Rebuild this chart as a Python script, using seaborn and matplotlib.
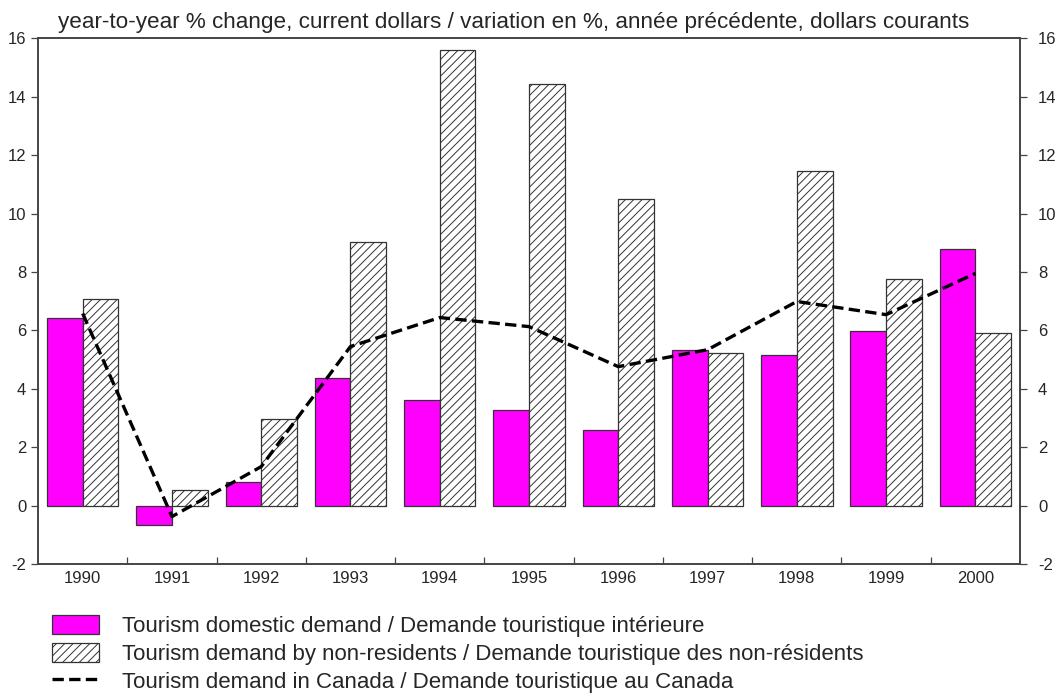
"""
Tourism demand in Canada, year-to-year % change (bars + dashed line).
"""

import pandas as pd
import seaborn as sns
import matplotlib.pyplot as plt
from matplotlib.ticker import FixedLocator

years = ["1990", "1991", "1992", "1993", "1994", "1995",
         "1996", "1997", "1998", "1999", "2000"]
domestic = [6.44, -0.65, 0.82, 4.38, 3.63, 3.29, 2.58, 5.34, 5.17, 5.99, 8.80]
non_residents = [7.09, 0.55, 2.98, 9.04, 15.58, 14.42, 10.48, 5.24, 11.44, 7.77, 5.92]
canada_total = [6.58, -0.37, 1.34, 5.45, 6.44, 6.13, 4.76, 5.34, 6.99, 6.54, 7.95]

label_domestic = "Tourism domestic demand / Demande touristique intérieure"
label_nonres = "Tourism demand by non-residents / Demande touristique des non-résidents"
label_canada = "Tourism demand in Canada / Demande touristique au Canada"
title = ("year-to-year % change, current dollars / variation en %, "
         "année précédente, dollars courants")
y_ticks = [-2, 0, 2, 4, 6, 8, 10, 12, 14, 16]


def build_frame() -> pd.DataFrame:
    rows = []
    for year, d, n in zip(years, domestic, non_residents):
        rows.append({"year": year, "series": label_domestic, "value": d})
        rows.append({"year": year, "series": label_nonres, "value": n})
    return pd.DataFrame(rows)


def main() -> None:
    sns.set_style("ticks")
    plt.rcParams["font.family"] = ["Liberation Sans", "DejaVu Sans"]
    plt.rcParams["hatch.linewidth"] = 0.7
    plt.rcParams["axes.unicode_minus"] = False

    df = build_frame()

    fig = plt.figure(figsize=(10.57, 6.94), dpi=100)
    ax = fig.add_axes([0.036, 0.187, 0.929, 0.758])

    sns.barplot(
        data=df, x="year", y="value", hue="series", order=years,
        palette={label_domestic: "#ff00ff", label_nonres: "white"},
        saturation=1, edgecolor="#333333", linewidth=0.9, width=0.8, gap=0,
        errorbar=None, ax=ax,
    )
    for patch in ax.containers[1]:
        patch.set_hatch("////")

    line_df = pd.DataFrame({"pos": range(len(years)), "value": canada_total})
    sns.lineplot(data=line_df, x="pos", y="value", color="black",
                 linestyle=(0, (3.4, 1.6)), linewidth=2.4, ax=ax,
                 label=label_canada)

    ax.set_xlim(-0.5, len(years) - 0.5)
    ax.set_ylim(-2, 16)
    ax.set_yticks(y_ticks)
    ax.set_xticks(range(len(years)))
    ax.set_xticklabels(years, fontsize=12)
    ax.tick_params(axis="x", which="major", length=0, pad=5)
    ax.xaxis.set_minor_locator(FixedLocator([i + 0.5 for i in range(len(years) - 1)]))
    ax.tick_params(axis="x", which="minor", direction="in", length=5,
                   width=0.9, color="#444444")
    ax.tick_params(axis="y", labelsize=12, length=5, width=0.9, color="#444444")
    ax.set_xlabel("")
    ax.set_ylabel("")
    for side in ax.spines.values():
        side.set_visible(True)
        side.set_color("#444444")
        side.set_linewidth(1.2)

    ax2 = ax.twinx()
    ax2.set_ylim(-2, 16)
    ax2.set_yticks(y_ticks)
    ax2.tick_params(axis="y", labelsize=12, length=5, width=0.9,
                    color="#444444", pad=8)
    for side in ax2.spines.values():
        side.set_color("#444444")
        side.set_linewidth(1.2)

    ax.set_title(title, fontsize=16.2, pad=7, x=0.484)

    handles, labels = ax.get_legend_handles_labels()
    ax.get_legend().remove()
    handles[1].set_hatch("////")
    fig.legend(handles, labels, loc="upper left",
               bbox_to_anchor=(0.0407, 0.127), frameon=False, fontsize=16,
               handlelength=2.12, handleheight=0.95, handletextpad=1.04,
               labelspacing=0.25, borderaxespad=0)

    fig.savefig("out.png", dpi=100)


if __name__ == "__main__":
    main()
